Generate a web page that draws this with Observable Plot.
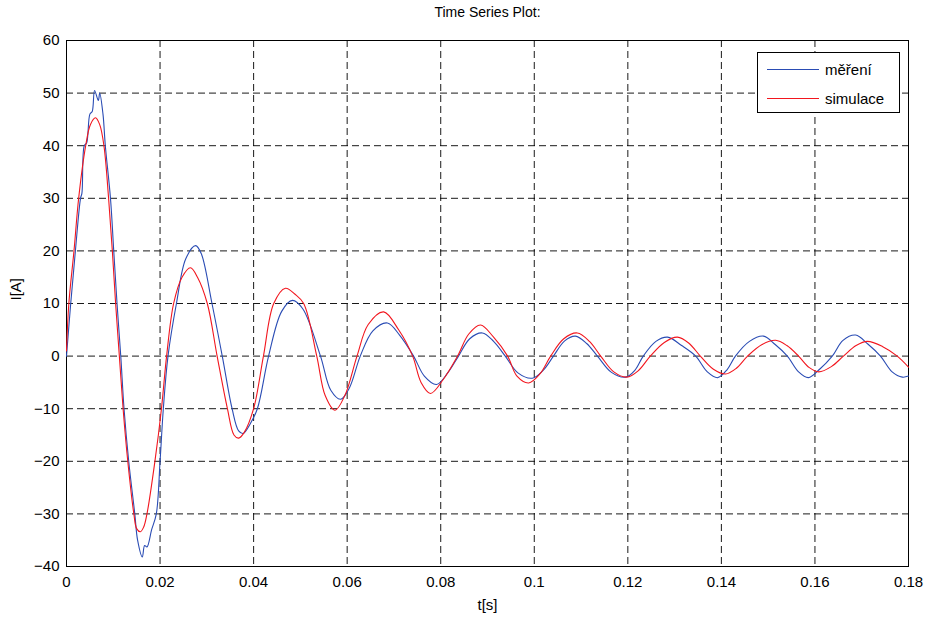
<!DOCTYPE html>
<html>
<head>
<meta charset="utf-8">
<script src="https://cdn.jsdelivr.net/npm/d3@7"></script>
<script src="https://cdn.jsdelivr.net/npm/@observablehq/plot@0.6"></script>
<style>
  html, body { margin: 0; padding: 0; background: #fff; }
  #wrap { position: relative; width: 928px; height: 619px; font-family: "Liberation Sans", Arial, sans-serif; }
  #legend { position: absolute; left: 757px; top: 52px; width: 141px; height: 59px; border: 1px solid #000; background: #fff; font-size: 15px; }
  .entry { position: absolute; left: 9px; height: 20px; display: flex; align-items: center; }
  .entry span.sw { display: inline-block; width: 52px; height: 0; border-top: 1px solid; margin-right: 6px; }
</style>
</head>
<body>
<div id="wrap"></div>
<script>
const title = "Time Series Plot:";
const xLabel = "t[s]";
const yLabel = "I[A]";
const seriesNames = ["měření", "simulace"];
const seriesColors = ["#2a4cb4", "#f2161e"];
const xTicks = [0, 0.02, 0.04, 0.06, 0.08, 0.1, 0.12, 0.14, 0.16, 0.18];
const yTicks = [-40, -30, -20, -10, 0, 10, 20, 30, 40, 50, 60];

// měření (measured)
const measT = [0, 0.0009, 0.0019, 0.003, 0.0033, 0.0038, 0.0043, 0.005, 0.0055, 0.006, 0.0068, 0.0071, 0.0078, 0.0083, 0.0094, 0.0101, 0.0108, 0.0116, 0.0123, 0.0133, 0.0146, 0.0152, 0.0162, 0.0167, 0.0172, 0.0182, 0.0192, 0.02, 0.0207, 0.0217, 0.0235, 0.0255, 0.0276, 0.0288, 0.0311, 0.0333, 0.0354, 0.0368, 0.0378, 0.0392, 0.0408, 0.0432, 0.046, 0.0483, 0.0505, 0.0543, 0.0565, 0.0586, 0.0605, 0.0628, 0.0655, 0.0686, 0.0712, 0.0742, 0.0765, 0.0791, 0.0815, 0.0838, 0.0862, 0.0889, 0.0913, 0.0938, 0.0965, 0.0996, 0.102, 0.1041, 0.1065, 0.1088, 0.1112, 0.1135, 0.1165, 0.1195, 0.1215, 0.1233, 0.126, 0.1285, 0.1315, 0.1345, 0.137, 0.1392, 0.1412, 0.143, 0.146, 0.149, 0.1515, 0.1541, 0.1565, 0.1586, 0.161, 0.1637, 0.166, 0.1687, 0.1713, 0.174, 0.1765, 0.1787, 0.18];
const measI = [0, 10, 20, 30, 31, 40, 40.5, 46, 46.5, 50.5, 48.6, 50, 46, 40, 30, 20, 10, 0, -10, -20, -30, -35, -38.2, -36, -36.3, -33, -30, -20, -10, 0, 10, 18.5, 21, 19.5, 10, 0, -10, -14.2, -14.7, -13, -10, 0, 8.5, 10.6, 9, 0, -6.5, -8.2, -6, 0, 4.8, 6.3, 4, 0, -3.8, -5.4, -3.2, 0, 3.3, 4.4, 2.8, 0, -3.2, -4.2, -2.6, 0, 2.9, 3.8, 2.4, 0, -3.1, -4.0, -2.7, 0, 2.8, 3.6, 2, 0, -3, -4.1, -2.6, 0, 2.8, 3.8, 2.2, 0, -3, -4.1, -2.5, 0, 3, 4.0, 2.3, 0, -3, -4.0, -3.8];

// simulace (simulated)
const simT = [0, 0.0005, 0.0016, 0.0026, 0.0041, 0.0051, 0.0062, 0.0071, 0.008, 0.009, 0.0098, 0.0105, 0.0113, 0.0121, 0.0131, 0.0144, 0.015, 0.0158, 0.0165, 0.0172, 0.0189, 0.0203, 0.0214, 0.0229, 0.0247, 0.0265, 0.028, 0.0301, 0.0322, 0.0344, 0.0358, 0.0368, 0.038, 0.04, 0.0421, 0.0443, 0.0468, 0.0488, 0.0507, 0.0535, 0.0553, 0.0574, 0.0595, 0.0621, 0.0645, 0.0678, 0.071, 0.074, 0.0758, 0.0778, 0.0805, 0.0836, 0.086, 0.0885, 0.0913, 0.0943, 0.0963, 0.0988, 0.1012, 0.1035, 0.1063, 0.1092, 0.1118, 0.1142, 0.117, 0.1198, 0.1222, 0.1248, 0.1278, 0.1306, 0.133, 0.1355, 0.1383, 0.1409, 0.1432, 0.1456, 0.1487, 0.1516, 0.154, 0.1565, 0.1588, 0.1608, 0.1635, 0.1661, 0.1688, 0.1712, 0.1745, 0.1776, 0.18];
const simI = [1, 10, 20, 30, 40, 44, 45.3, 44, 40, 30, 20, 10, 0, -10, -20, -30, -32.8, -33.4, -32.5, -30, -20, -10, 0, 10, 15, 16.8, 15, 10, 0, -10, -15, -15.6, -14.5, -10, 0, 10, 12.9, 11.8, 10, 0, -7.5, -10.3, -7.5, 0, 6, 8.4, 5, 0, -5, -7.1, -4.5, 0, 4.2, 5.9, 3.6, 0, -3.8, -5.1, -3.4, 0, 3.3, 4.4, 2.8, 0, -3, -4.0, -2.8, 0, 2.6, 3.6, 2.5, 0, -2.5, -3.4, -2.3, 0, 2.2, 3.0, 2, 0, -2.2, -3.0, -2, 0, 2, 2.8, 1.8, 0, -2.1];

const meas = measT.map((t, i) => ({t, v: measI[i]}));
const sim = simT.map((t, i) => ({t, v: simI[i]}));
const fmt = d => String(+d.toFixed(2));

const chart = Plot.plot({
  width: 928,
  height: 619,
  marginLeft: 66,
  marginRight: 20,
  marginTop: 40,
  marginBottom: 53,
  style: {fontFamily: "Liberation Sans, Arial, sans-serif", fontSize: "15px", background: "#fff", color: "#000"},
  x: {domain: [0, 0.18]},
  y: {domain: [-40, 60]},
  marks: [
    Plot.gridX(xTicks.slice(1, -1), {stroke: "#000", strokeOpacity: 0.9, strokeDasharray: "7,4"}),
    Plot.gridY(yTicks.slice(1, -1), {stroke: "#000", strokeOpacity: 0.9, strokeDasharray: "7,4"}),
    Plot.axisX(xTicks, {tickSize: 0, tickPadding: 10, fontSize: 15, tickFormat: fmt, label: null}),
    Plot.axisY(yTicks, {tickSize: 0, tickPadding: 7, fontSize: 15, label: null}),
    Plot.frame({stroke: "#000"}),
    Plot.line(meas, {x: "t", y: "v", stroke: seriesColors[0], strokeWidth: 1.1, curve: "catmull-rom"}),
    Plot.line(sim, {x: "t", y: "v", stroke: seriesColors[1], strokeWidth: 1.1, curve: "catmull-rom"}),
    Plot.text([title], {frameAnchor: "top", dy: -28, lineAnchor: "middle", fontSize: 14, fill: "#000"}),
    Plot.text([xLabel], {frameAnchor: "bottom", dy: 39, lineAnchor: "middle", fontSize: 15, fill: "#000"}),
    Plot.text([yLabel], {frameAnchor: "left", dx: -50, dy: -3, rotate: -90, lineAnchor: "middle", fontSize: 15, fill: "#000"})
  ]
});
document.getElementById("wrap").appendChild(chart);

const legend = document.createElement("div");
legend.id = "legend";
seriesNames.forEach((name, i) => {
  const e = document.createElement("div");
  e.className = "entry";
  e.style.top = (6 + i * 29) + "px";
  e.innerHTML = `<span class="sw" style="border-color:${seriesColors[i]}"></span>${name}`;
  legend.appendChild(e);
});
document.getElementById("wrap").appendChild(legend);
</script>
</body>
</html>
